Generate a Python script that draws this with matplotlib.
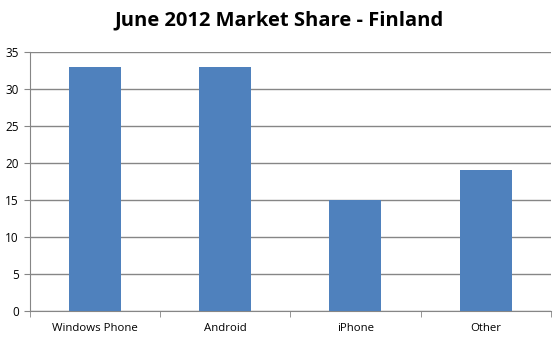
import matplotlib
matplotlib.use('Agg')
import matplotlib.pyplot as plt
import numpy as np

# data
categories = ['Windows Phone', 'Android', 'iPhone', 'Other']
share = [33, 33, 15, 19]
y_ticks = [0, 5, 10, 15, 20, 25, 30, 35]

BAR = '#4F81BD'
GRID = '#868686'

plt.rcParams['font.family'] = ['Open Sans', 'DejaVu Sans']

fig = plt.figure(figsize=(5.59, 3.40), dpi=100)
ax = fig.add_axes([30 / 559, 29.5 / 340, 520.7 / 559, 258.5 / 340])

x = np.arange(len(categories))
ax.bar(x, share, width=0.4, color=BAR, zorder=3)

ax.set_xlim(-0.5, len(categories) - 0.5)
ax.set_ylim(0, 35)
ax.set_yticks(y_ticks)
ax.yaxis.grid(True, color=GRID, linewidth=1)
ax.set_axisbelow(True)

# category labels at centers, tick marks at boundaries
ax.set_xticks(x)
ax.set_xticklabels(categories, fontsize=8.2)
ax.tick_params(axis='x', length=0, pad=9)
ax.set_xticks(np.arange(-0.5, len(categories)), minor=True)
ax.tick_params(axis='x', which='minor', length=4, color=GRID, direction='out')
ax.tick_params(axis='y', length=4, color=GRID, labelsize=8.5, pad=4)

for side in ['top', 'right']:
    ax.spines[side].set_visible(False)
ax.spines['left'].set_color(GRID)
ax.spines['bottom'].set_color(GRID)

fig.text(0.5, 1 - 20 / 340, 'June 2012 Market Share - Finland',
         ha='center', va='center', fontsize=14.5, fontweight='bold')

fig.savefig('out.png', dpi=100)
